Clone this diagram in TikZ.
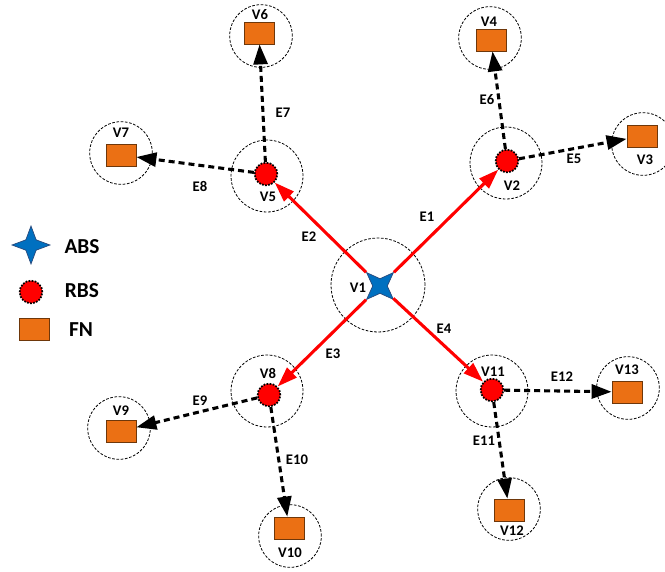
\documentclass[tikz,border=0pt]{standalone}
\usepackage{fontspec}
\setmainfont{Carlito}
\usetikzlibrary{shapes.geometric,arrows.meta}
\definecolor{absblue}{RGB}{0,112,192}
\definecolor{absedge}{RGB}{40,70,120}
\definecolor{fnorange}{RGB}{235,112,20}
\definecolor{fnedge}{RGB}{110,55,10}
\begin{document}
\begin{tikzpicture}
[x=0.75pt,y=-0.75pt,
zone/.style={circle,draw,line width=0.6pt,dash pattern=on 2pt off 1.2pt,minimum size=#1,inner sep=0pt},
absnode/.style={star,star points=4,star point ratio=2.6,minimum size=28.5pt,inner sep=0pt,fill=absblue,draw=absedge,line width=0.5pt},
rbsnode/.style={circle,fill=red,draw=black,line width=1.3pt,densely dotted,minimum size=17pt,inner sep=0pt},
fnnode/.style={rectangle,fill=fnorange,draw=fnedge,line width=0.6pt,minimum width=22.5pt,minimum height=16.5pt,inner sep=0pt},
vlabel/.style={font=\fontsize{11}{12}\selectfont\bfseries,inner sep=0pt},
legendtext/.style={font=\fontsize{16}{18}\selectfont\bfseries,inner sep=0pt},
backhaul/.style={red,line width=2.3pt,-{Triangle[length=15pt,width=10pt]}},
access/.style={black,line width=2.3pt,dash pattern=on 4.5pt off 3pt,-{Triangle[length=15pt,width=10.5pt]}}]
\useasboundingbox (0,0) rectangle (665,572);

\node[zone=70.5pt] (z1) at (378,285) {};
\node[zone=54pt] (z2) at (506,163) {};
\node[zone=54pt] (z5) at (267,176) {};
\node[zone=54pt] (z8) at (267,391) {};
\node[zone=54pt] (z11) at (492,391) {};
\node[zone=47pt] (z3) at (643,144) {};
\node[zone=47pt] (z4) at (490,38) {};
\node[zone=47pt] (z6) at (261,36) {};
\node[zone=47pt] (z7) at (121,153) {};
\node[zone=47pt] (z9) at (119,428) {};
\node[zone=47pt] (z10) at (290,536) {};
\node[zone=47pt] (z12) at (509,509) {};
\node[zone=47pt] (z13) at (628,388) {};

\node[absnode,shape border rotate=45] (v1) at (380,286) {};
\node[rbsnode] (v2) at (507,161) {};
\node[rbsnode] (v5) at (266,174) {};
\node[rbsnode] (v8) at (269,395) {};
\node[rbsnode] (v11) at (492,390) {};
\node[fnnode] (v3) at (642,136) {};
\node[fnnode] (v4) at (491,40) {};
\node[fnnode] (v6) at (259,33) {};
\node[fnnode] (v7) at (121,155) {};
\node[fnnode] (v9) at (121,431) {};
\node[fnnode] (v10) at (289,528) {};
\node[fnnode] (v12) at (509,510) {};
\node[fnnode] (v13) at (627,392) {};

\node[vlabel] (l1) at (358,288) {V1};
\node[vlabel] (l2) at (512,186) {V2};
\node[vlabel] (l3) at (645,160) {V3};
\node[vlabel] (l4) at (489,22) {V4};
\node[vlabel] (l5) at (268,197) {V5};
\node[vlabel] (l6) at (260,15) {V6};
\node[vlabel] (l7) at (121,133) {V7};
\node[vlabel] (l8) at (268,373) {V8};
\node[vlabel] (l9) at (121,411) {V9};
\node[vlabel] (l10) at (290,553) {V10};
\node[vlabel] (l11) at (493,372) {V11};
\node[vlabel] (l12) at (512,531) {V12};
\node[vlabel] (l13) at (627,370) {V13};

\draw[backhaul] (v1) -- (v2);
\draw[backhaul] (v1) -- (v5);
\draw[backhaul] (v1) -- (v8);
\draw[backhaul] (v1) -- (v11);
\draw[access] (v2) -- (v3);
\draw[access] (v2) -- (v4);
\draw[access] (v5) -- (v6);
\draw[access] (v5) -- (v7);
\draw[access] (v8) -- (v9);
\draw[access] (v8) -- (v10);
\draw[access] (v11) -- (v12);
\draw[access] (v11) -- (v13);

\node[vlabel] (e1) at (427,217) {E1};
\node[vlabel] (e2) at (309,237) {E2};
\node[vlabel] (e3) at (333,354) {E3};
\node[vlabel] (e4) at (444,329) {E4};
\node[vlabel] (e5) at (574,159) {E5};
\node[vlabel] (e6) at (487,100) {E6};
\node[vlabel] (e7) at (283,113) {E7};
\node[vlabel] (e8) at (200,186) {E8};
\node[vlabel] (e9) at (200,401) {E9};
\node[vlabel] (e10) at (297,460) {E10};
\node[vlabel] (e11) at (484,441) {E11};
\node[vlabel] (e12) at (562,377) {E12};

\node[absnode] (kabs) at (31,245) {};
\node[rbsnode] (krbs) at (31,292) {};
\node[fnnode] (kfn) at (34,329) {};
\node[legendtext] (tabs) at (82,247) {ABS};
\node[legendtext] (trbs) at (82,291) {RBS};
\node[legendtext] (tfn) at (81,330) {FN};
\end{tikzpicture}
\end{document}
